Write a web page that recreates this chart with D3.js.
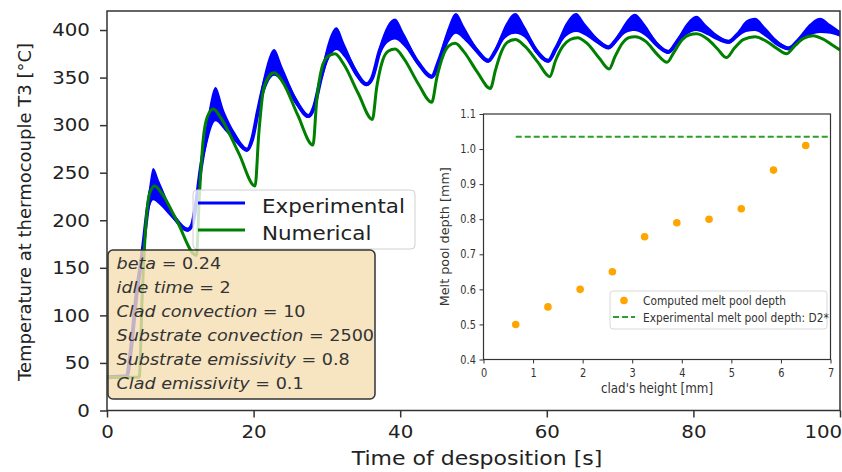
<!DOCTYPE html>
<html>
<head>
<meta charset="utf-8">
<script src="https://d3js.org/d3.v7.min.js"></script>
<style>
  body { margin: 0; background: #fff; }
  svg { display: block; font-family: "DejaVu Sans", sans-serif; }
</style>
</head>
<body>
<div id="chart"></div>
<script>
'use strict';

// numerical model, T3 thermocouple
var numTime = [0, 4.4, 4.8, 5.3, 5.8, 6.5, 7.5, 9.5, 12.2, 12.6, 13.1, 13.7, 14.5, 15.5, 18, 20.2,
    20.7, 21.3, 22, 22.8, 24, 26, 28.1, 28.6, 29.3, 30.1, 31.1, 32.3, 34.3, 36.2, 36.8, 37.6, 38.4, 39.3,
    40.5, 42.5, 44.3, 45, 45.8, 46.6, 47.5, 48.7, 50.5, 52.3, 53, 53.8, 54.6, 55.7, 57, 58.8, 60.4,
    61.2, 62.2, 63.2, 64.2, 65.5, 67.2, 68.5, 69.3, 70.3, 71.2, 72, 73.5, 75, 76.4, 77.3, 78.5, 79.5,
    80.4, 82, 83.3, 84.5, 85.6, 86.8, 88.4, 90, 91.5, 92.7, 93.8, 95, 96.3, 97.8, 99, 100];
var numTemp = [35, 35, 120, 195, 228, 236, 228, 200, 163, 225, 283, 309, 317, 308, 270, 236,
    290, 335, 350, 355, 345, 311, 279, 325, 360, 372, 375, 364, 333, 306, 340, 368, 378, 380,
    370, 343, 324, 350, 372, 383, 386, 377, 356, 338.5, 358, 377, 387, 390, 383, 366, 351,
    368, 383, 390, 392, 386, 370, 359, 372, 386, 392, 393, 388, 375, 366, 376, 390, 395,
    396, 390, 380, 371, 381, 390, 393, 388, 380, 375, 383, 391, 394, 390, 384, 379];

// experimental: centre of the noisy band and its half width
var expTime = [0, 2.7, 3.2, 4, 4.9, 5.6, 6.3, 7.2, 9, 11, 11.6, 12.2, 12.8, 13.6, 14.8, 16, 17.5, 19.1,
    19.8, 20.6, 21.5, 22.8, 24, 25.8, 27.5, 28.2, 29.2, 30.2, 31.3, 32.5, 34, 35.4, 36.2, 37.2, 38.2,
    39.3, 40.5, 42.5, 44.3, 45.3, 46.4, 47.6, 48.8, 50.5, 52, 53, 54.3, 55.7, 57, 58.6, 60.2, 61.2,
    62.6, 64, 65.3, 67, 68.4, 69.5, 70.8, 72, 73.4, 75, 76.6, 77.8, 79.1, 80.4, 81.8, 83.3, 84.8, 86,
    87.2, 88.4, 89.8, 91.5, 93, 94.2, 95.8, 97.3, 98.7, 100];
var expTemp = [35, 36, 60, 120, 170, 215, 238, 228, 205, 190, 195, 220, 255, 290, 322, 305, 287, 274,
    285, 315, 345, 366, 352, 325, 309.5, 318, 350, 378, 391, 377, 355, 343, 350, 378, 395,
    401, 390, 365, 351, 368, 392, 407, 396, 378, 367.6, 378, 398, 407, 398, 378, 367.6, 380,
    400, 408, 400, 388, 381.7, 390, 403, 408, 400, 385, 377, 388, 401, 407, 400, 392, 387.6, 395,
    404, 406, 398, 386, 380.7, 388, 400, 405, 401, 396];
var expSpread = [0, 0, 2, 3, 5, 10, 17, 12, 4, 2, 2, 3, 6, 12, 18, 10, 5, 2,
    3, 6, 10, 14, 8, 4, 2, 2, 6, 10, 12, 7, 4, 2, 3, 6, 9,
    11, 7, 3, 2, 4, 8, 11, 7, 3, 2, 3, 7, 11, 6, 3, 2, 3,
    7, 10, 6, 3, 2, 3, 6, 9, 6, 3, 2, 3, 6, 8, 5, 3, 2, 3,
    6, 7, 5, 3, 2, 3, 6, 8, 5, 3];

var xTicks = [0, 20, 40, 60, 80, 100];
var yTicks = [0, 50, 100, 150, 200, 250, 300, 350, 400];
var seriesNames = ['Experimental', 'Numerical'];

var params = [
    ['beta', '0.24'],
    ['idle time', '2'],
    ['Clad convection', '10'],
    ['Substrate convection', '2500'],
    ['Substrate emissivity', '0.8'],
    ['Clad emissivity', '0.1']
];

// inset: melt pool depth
var cladHeight = [0.65, 1.3, 1.95, 2.6, 3.25, 3.9, 4.55, 5.2, 5.85, 6.5];
var poolDepth = [0.50, 0.55, 0.60, 0.65, 0.75, 0.79, 0.80, 0.83, 0.94, 1.01];
var expDepth = 1.035;
var expDepthFrom = 0.65;
var insetXTicks = [0, 1, 2, 3, 4, 5, 6, 7];
var insetYTicks = [0.4, 0.5, 0.6, 0.7, 0.8, 0.9, 1.0, 1.1];
var insetNames = ['Computed melt pool depth', 'Experimental melt pool depth: D2*'];

var W = 842, H = 472;
var SX = 1.1;    // main figure text is a bit wide
var SXI = 0.85;  // inset text is narrower
var BLUE = '#0000ff', GREEN = '#008000', ORANGE = '#ffa500';

var svg = d3.select('#chart').append('svg')
    .attr('width', W)
    .attr('height', H);

var plot = {left: 107, right: 840, top: 11, bottom: 410.5};

var x = d3.scaleLinear().domain([0, 100]).range([plot.left, plot.right]);
var y = d3.scaleLinear().domain([0, 420]).range([plot.bottom, plot.top]);

svg.append('clipPath').attr('id', 'clip')
    .append('rect')
    .attr('x', plot.left).attr('y', plot.top)
    .attr('width', plot.right - plot.left).attr('height', plot.bottom - plot.top);

function stretched(sel, px, py, sx) {
    return sel.attr('transform', 'translate(' + px + ',' + py + ') scale(' + sx + ',1)');
}

var curves = svg.append('g').attr('clip-path', 'url(#clip)');

var expIdx = d3.range(expTime.length);
curves.append('path')
    .datum(expIdx)
    .attr('fill', BLUE)
    .attr('d', d3.area()
        .x(function(i) { return x(expTime[i]); })
        .y0(function(i) { return y(expTemp[i] - expSpread[i]); })
        .y1(function(i) { return y(expTemp[i] + expSpread[i]); })
        .curve(d3.curveMonotoneX));

curves.append('path')
    .datum(expIdx)
    .attr('fill', 'none')
    .attr('stroke', BLUE)
    .attr('stroke-width', 4)
    .attr('d', d3.line()
        .x(function(i) { return x(expTime[i]); })
        .y(function(i) { return y(expTemp[i]); })
        .curve(d3.curveMonotoneX));

curves.append('path')
    .datum(d3.range(numTime.length))
    .attr('fill', 'none')
    .attr('stroke', GREEN)
    .attr('stroke-width', 3)
    .attr('d', d3.line()
        .x(function(i) { return x(numTime[i]); })
        .y(function(i) { return y(numTemp[i]); })
        .curve(d3.curveMonotoneX));

// axes
var xAxis = svg.append('g')
    .attr('transform', 'translate(0,' + plot.bottom + ')')
    .call(d3.axisBottom(x).tickValues(xTicks).tickSize(7).tickPadding(8));
var yAxis = svg.append('g')
    .attr('transform', 'translate(' + plot.left + ',0)')
    .call(d3.axisLeft(y).tickValues(yTicks).tickSize(7).tickPadding(8.5));

[xAxis, yAxis].forEach(function(ax) {
    ax.select('.domain').remove();
    ax.selectAll('line').attr('stroke', '#333').attr('stroke-width', 1.5);
    ax.selectAll('text')
        .attr('font-size', 18)
        .attr('font-family', 'DejaVu Sans')
        .attr('fill', '#222')
        .attr('transform', 'scale(' + SX + ',1)');
});
// last label sits on the page edge, keep it inside
xAxis.selectAll('.tick text')
    .filter(function(d) { return d === 100; })
    .attr('text-anchor', 'end')
    .attr('x', 1.5);

svg.append('rect')
    .attr('x', plot.left).attr('y', plot.top)
    .attr('width', plot.right - plot.left).attr('height', plot.bottom - plot.top)
    .attr('fill', 'none')
    .attr('stroke', '#333')
    .attr('stroke-width', 1.5);

stretched(svg.append('text'), 477, 465, SX)
    .attr('text-anchor', 'middle')
    .attr('font-size', 20)
    .attr('fill', '#222')
    .text('Time of desposition [s]');

svg.append('text')
    .attr('transform', 'translate(31,212) rotate(-90)')
    .attr('text-anchor', 'middle')
    .attr('font-size', 18)
    .attr('fill', '#222')
    .text('Temperature at thermocouple T3 [°C]');

// legend
var legend = svg.append('g');
legend.append('rect')
    .attr('x', 193).attr('y', 190)
    .attr('width', 222).attr('height', 59)
    .attr('rx', 4)
    .attr('fill', '#fff').attr('fill-opacity', 0.8)
    .attr('stroke', '#d0d0d0');

seriesNames.forEach(function(name, i) {
    var ly = 203 + i * 27;
    legend.append('line')
        .attr('x1', 198).attr('x2', 245)
        .attr('y1', ly).attr('y2', ly)
        .attr('stroke', i === 0 ? BLUE : GREEN)
        .attr('stroke-width', 3);
    stretched(legend.append('text'), 262, ly + 10, SX)
        .attr('font-size', 19.5)
        .attr('fill', '#222')
        .text(name);
});

// parameter box
var box = svg.append('g');
box.append('rect')
    .attr('x', 108).attr('y', 250)
    .attr('width', 267).attr('height', 149)
    .attr('rx', 5)
    .attr('fill', '#f5deb3').attr('fill-opacity', 0.8)
    .attr('stroke', '#333').attr('stroke-width', 1.5);

params.forEach(function(p, i) {
    var t = stretched(box.append('text'), 116.5, 268.5 + i * 24.1, SX)
        .attr('font-size', 16)
        .attr('fill', '#333');
    t.append('tspan').attr('font-style', 'italic').text(p[0]);
    t.append('tspan').text(' = ' + p[1]);
});

// inset
var inset = {left: 483.5, right: 830.5, top: 114, bottom: 359.5};
var xi = d3.scaleLinear().domain([0, 7]).range([inset.left, inset.right]);
var yi = d3.scaleLinear().domain([0.4, 1.1]).range([inset.bottom, inset.top]);

var ig = svg.append('g');

var xiAxis = ig.append('g')
    .attr('transform', 'translate(0,' + inset.bottom + ')')
    .call(d3.axisBottom(xi).tickValues(insetXTicks).tickFormat(d3.format('d')).tickSize(4).tickPadding(5));
var yiAxis = ig.append('g')
    .attr('transform', 'translate(' + inset.left + ',0)')
    .call(d3.axisLeft(yi).tickValues(insetYTicks).tickFormat(d3.format('.1f')).tickSize(4).tickPadding(5));

[xiAxis, yiAxis].forEach(function(ax) {
    ax.select('.domain').remove();
    ax.selectAll('line').attr('stroke', '#333').attr('stroke-width', 1);
    ax.selectAll('text')
        .attr('font-size', 11.5)
        .attr('font-family', 'DejaVu Sans')
        .attr('fill', '#333')
        .attr('transform', 'scale(' + SXI + ',1)');
});

ig.append('rect')
    .attr('x', inset.left).attr('y', inset.top)
    .attr('width', inset.right - inset.left).attr('height', inset.bottom - inset.top)
    .attr('fill', 'none')
    .attr('stroke', '#333')
    .attr('stroke-width', 1.2);

ig.append('line')
    .attr('x1', xi(expDepthFrom)).attr('x2', xi(7))
    .attr('y1', yi(expDepth)).attr('y2', yi(expDepth))
    .attr('stroke', '#2ca02c')
    .attr('stroke-width', 2)
    .attr('stroke-dasharray', '6,3');

ig.selectAll('circle.pt')
    .data(d3.range(cladHeight.length))
    .enter()
    .append('circle')
    .attr('class', 'pt')
    .attr('cx', function(i) { return xi(cladHeight[i]); })
    .attr('cy', function(i) { return yi(poolDepth[i]); })
    .attr('r', 3.8)
    .attr('fill', ORANGE);

stretched(ig.append('text'), (inset.left + inset.right) / 2, 393, SXI)
    .attr('text-anchor', 'middle')
    .attr('font-size', 14)
    .attr('fill', '#333')
    .text("clad's height [mm]");

ig.append('text')
    .attr('transform', 'translate(449,' + ((inset.top + inset.bottom) / 2) + ') rotate(-90)')
    .attr('text-anchor', 'middle')
    .attr('font-size', 12.8)
    .attr('fill', '#333')
    .text('Melt pool depth [mm]');

// inset legend
var il = ig.append('g');
il.append('rect')
    .attr('x', 610).attr('y', 291)
    .attr('width', 217).attr('height', 38)
    .attr('rx', 3)
    .attr('fill', '#fff').attr('fill-opacity', 0.8)
    .attr('stroke', '#d8d8d8');
il.append('circle')
    .attr('cx', 624).attr('cy', 300.5)
    .attr('r', 3.8)
    .attr('fill', ORANGE);
il.append('line')
    .attr('x1', 613).attr('x2', 635)
    .attr('y1', 317).attr('y2', 317)
    .attr('stroke', '#2ca02c')
    .attr('stroke-width', 2)
    .attr('stroke-dasharray', '6,3');
insetNames.forEach(function(name, i) {
    stretched(il.append('text'), 643, 305 + i * 17, SXI)
        .attr('font-size', 12.5)
        .attr('fill', '#333')
        .text(name);
});
</script>
</body>
</html>
